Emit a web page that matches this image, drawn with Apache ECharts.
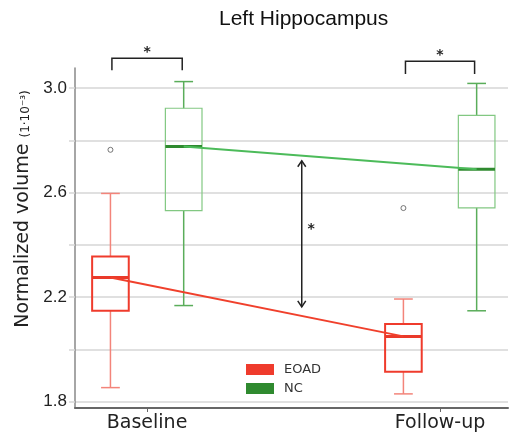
<!DOCTYPE html>
<html><head><meta charset="utf-8">
<script src="https://cdn.jsdelivr.net/npm/echarts@6/dist/echarts.min.js"></script>
<style>html,body{margin:0;padding:0;background:#fff}#c{width:517px;height:436px}</style>
</head><body><div id="c"></div>
<script>
const categories = ['Baseline', 'Follow-up'];
const groups = ['EOAD', 'NC'];
// box statistics per category: [min, Q1, median, Q3, max]
const eoadStats = [[1.854, 2.148, 2.275, 2.356, 2.597], [1.830, 1.915, 2.050, 2.097, 2.193]];
const ncStats = [[2.168, 2.531, 2.777, 2.923, 3.025], [2.148, 2.542, 2.690, 2.896, 3.018]];
const eoadOutliers = [[0, 2.764], [1, 2.541]];
const yTicks = [1.8, 2.0, 2.2, 2.4, 2.6, 2.8, 3.0];
const yLabels = [1.8, 2.2, 2.6, 3.0];
// significance annotations (data units)
const brackets = [[-0.12, 0.12, 3.114, 3.068], [0.882, 1.118, 3.103, 3.054]]; // x1, x2, top, bottom
const arrows = [[0.528, 2.722, 2.163]]; // x, top, bottom
const stars = [[0.0, 3.147], [1.0, 3.136], [0.56, 2.47]];

const DODGE = 0.125, HALF = 0.0625, CAP = 0.032;

function boxRenderer(st) {
  return function (params, api) {
    const x = api.value(0), lo = api.value(1), q1 = api.value(2), md = api.value(3), q3 = api.value(4), hi = api.value(5);
    const c = (a, b) => api.coord([a, b]);
    const ln = (p1, p2, stroke, w) => ({type: 'line', shape: {x1: p1[0], y1: p1[1], x2: p2[0], y2: p2[1]}, style: {stroke: stroke, lineWidth: w}});
    const tl = c(x - HALF, q3), br = c(x + HALF, q1);
    return {type: 'group', children: [
      ln(c(x, q3), c(x, hi), st.whisker, st.ww),
      ln(c(x, q1), c(x, lo), st.whisker, st.ww),
      ln(c(x - CAP, hi), c(x + CAP, hi), st.whisker, st.ww),
      ln(c(x - CAP, lo), c(x + CAP, lo), st.whisker, st.ww),
      {type: 'rect', shape: {x: tl[0], y: tl[1], width: br[0] - tl[0], height: br[1] - tl[1]}, style: {fill: 'rgba(255,255,255,0)', stroke: st.box, lineWidth: st.bw}},
      ln(c(x - HALF, md), c(x + HALF, md), st.median, 3)
    ]};
  };
}

const chart = echarts.init(document.getElementById('c'), null, {renderer: 'canvas'});
const option = {
  animation: false,
  backgroundColor: '#fff',
  title: {
    text: 'Left Hippocampus', left: 214, top: 4,
    textStyle: {fontFamily: 'Liberation Sans', fontSize: 21, fontWeight: 'normal', color: '#111'}
  },
  legend: {
    data: groups, left: 241, top: 358, orient: 'vertical', icon: 'rect',
    itemWidth: 28, itemHeight: 11, itemGap: 6,
    textStyle: {fontFamily: 'DejaVu Sans', fontSize: 13, color: '#333', padding: [0, 0, 0, 5]}
  },
  grid: {left: 75, right: 9, top: 68, bottom: 28},
  xAxis: {
    type: 'value', min: -0.246, max: 1.232,
    axisLine: {onZero: false, lineStyle: {color: '#666', width: 2}},
    axisTick: {show: true, customValues: [0, 1], length: 4, lineStyle: {color: '#666'}},
    axisLabel: {customValues: [0, 1], formatter: v => categories[Math.round(v)], fontFamily: 'DejaVu Sans', fontSize: 19, color: '#222', margin: 6},
    splitLine: {show: false}
  },
  yAxis: {
    type: 'value', min: 1.776, max: 3.077,
    name: '{a|Normalized volume }{b|(1·10⁻³)}',
    nameLocation: 'middle', nameRotate: 90, nameGap: 36,
    nameTextStyle: {
      padding: [0, 0, 0, 58],
      rich: {
        a: {fontFamily: 'DejaVu Sans', fontSize: 19, color: '#222', verticalAlign: 'bottom'},
        b: {fontFamily: 'DejaVu Sans', fontSize: 12, color: '#222', verticalAlign: 'bottom', padding: [0, 0, 1, 0]}
      }
    },
    axisLine: {show: true, onZero: false, lineStyle: {color: '#888', width: 1.5}},
    axisTick: {show: true, customValues: yTicks, length: 6, lineStyle: {color: '#d6d6d6', width: 1.5}},
    axisLabel: {customValues: yLabels, formatter: v => v.toFixed(1), fontFamily: 'Liberation Sans', fontSize: 17, color: '#222', margin: 8},
    splitLine: {show: true, lineStyle: {color: '#d6d6d6', width: 1.5}}
  },
  series: [
    {
      name: 'EOAD', type: 'custom', z: 3, itemStyle: {color: '#ef3b2c'},
      renderItem: boxRenderer({whisker: '#f3847a', ww: 1.5, box: '#ef3b2c', bw: 2, median: '#ea3a2a'}),
      encode: {x: 0, y: [1, 2, 3, 4, 5]},
      data: eoadStats.map((s, i) => [i - DODGE].concat(s))
    },
    {
      name: 'NC', type: 'custom', z: 3, itemStyle: {color: '#2f8a2f'},
      renderItem: boxRenderer({whisker: '#5aad5a', ww: 1.5, box: '#82c882', bw: 1.2, median: '#2f8a2f'}),
      encode: {x: 0, y: [1, 2, 3, 4, 5]},
      data: ncStats.map((s, i) => [i + DODGE].concat(s))
    },
    {
      name: 'EOAD trend', type: 'line', z: 4, symbol: 'none', silent: true,
      lineStyle: {color: '#f0402c', width: 2},
      data: eoadStats.map((s, i) => [i - DODGE, s[2]])
    },
    {
      name: 'NC trend', type: 'line', z: 4, symbol: 'none', silent: true,
      lineStyle: {color: '#4cbb5a', width: 2},
      data: ncStats.map((s, i) => [i + DODGE, s[2]])
    },
    {
      name: 'EOAD outliers', type: 'scatter', z: 5, symbol: 'circle', symbolSize: 5,
      itemStyle: {color: '#fff', borderColor: '#555', borderWidth: 1},
      data: eoadOutliers.map(o => [o[0] - DODGE, o[1]])
    },
    {
      name: 'brackets', type: 'custom', z: 6, silent: true,
      renderItem: (params, api) => {
        const x1 = api.value(0), x2 = api.value(1), t = api.value(2), b = api.value(3);
        return {type: 'polyline', shape: {points: [api.coord([x1, b]), api.coord([x1, t]), api.coord([x2, t]), api.coord([x2, b])]}, style: {stroke: '#222', lineWidth: 1.5, fill: null}};
      },
      encode: {x: [0, 1], y: [2, 3]},
      data: brackets
    },
    {
      name: 'arrows', type: 'custom', z: 6, silent: true,
      renderItem: (params, api) => {
        const p = api.coord([api.value(0), api.value(1)]), q = api.coord([api.value(0), api.value(2)]);
        return {type: 'group', children: [
          {type: 'line', shape: {x1: p[0], y1: p[1], x2: q[0], y2: q[1]}, style: {stroke: '#222', lineWidth: 1.5}},
          {type: 'polyline', shape: {points: [[p[0] - 4, p[1] + 6], p, [p[0] + 4, p[1] + 6]]}, style: {stroke: '#222', lineWidth: 1.5, fill: null}},
          {type: 'polyline', shape: {points: [[q[0] - 4, q[1] - 6], q, [q[0] + 4, q[1] - 6]]}, style: {stroke: '#222', lineWidth: 1.5, fill: null}}
        ]};
      },
      encode: {x: 0, y: [1, 2]},
      data: arrows
    },
    {
      name: 'stars', type: 'custom', z: 6, silent: true,
      renderItem: (params, api) => {
        const p = api.coord([api.value(0), api.value(1)]);
        return {type: 'text', style: {text: '*', x: p[0], y: p[1] + 3, fill: '#222', font: 'bold 14px "DejaVu Sans"', align: 'center', verticalAlign: 'middle'}};
      },
      encode: {x: 0, y: 1},
      data: stars
    }
  ]
};
chart.setOption(option);
</script>
</body></html>
